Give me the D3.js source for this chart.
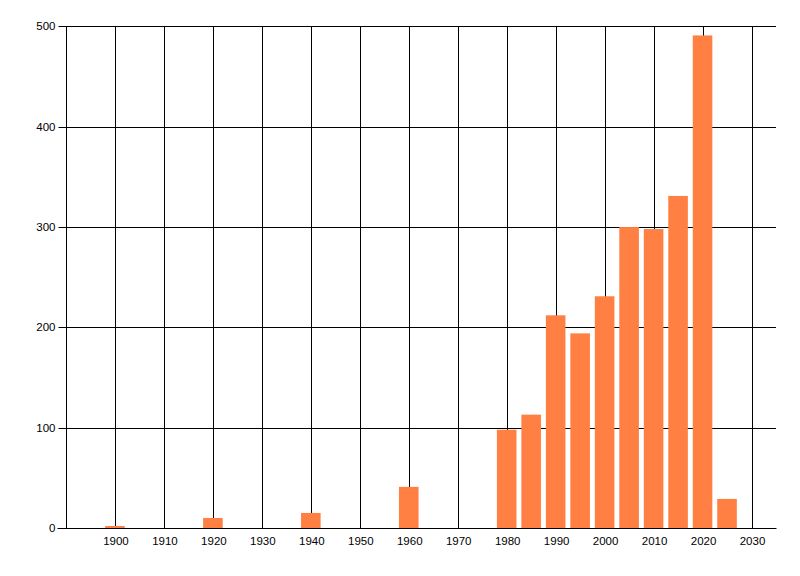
<!DOCTYPE html>
<html>
<head>
<meta charset="utf-8">
<script src="https://cdn.jsdelivr.net/npm/d3@7"></script>
<style>
  body { margin: 0; background: #fff; }
  svg text { font-family: "Liberation Sans", Arial, sans-serif; font-size: 11.5px; fill: #000; }
</style>
</head>
<body>
<div id="chart"></div>
<script>
// --- Data ---
const years = [1900, 1920, 1940, 1960, 1980, 1985, 1990, 1995, 2000, 2005, 2010, 2015, 2020, 2025];
const counts = [2, 10, 15, 41, 98, 113, 212, 194, 231, 300, 298, 331, 491, 29];
const xTicks = [1900, 1910, 1920, 1930, 1940, 1950, 1960, 1970, 1980, 1990, 2000, 2010, 2020, 2030];
const yTicks = [0, 100, 200, 300, 400, 500];

// --- Layout ---
const width = 800, height = 576;
const plotLeft = 66, plotRight = 776, plotTop = 26.4, plotBottom = 528;
const barColor = "#FF8042";
const labelFont = "Liberation Sans, Arial, sans-serif";

const svg = d3.select("#chart").append("svg")
    .attr("width", width)
    .attr("height", height);

const x = d3.scaleLinear().domain([1890, 2035]).range([plotLeft, plotRight]);
const y = d3.scaleLinear().domain([0, 500]).range([plotBottom, plotTop]);
const px = v => Math.round(v) + 0.5;

// vertical grid lines
svg.append("g").selectAll("line").data(xTicks).enter()
  .append("line")
    .attr("x1", d => px(x(d))).attr("x2", d => px(x(d)))
    .attr("y1", px(plotTop)).attr("y2", plotBottom)
    .attr("stroke", "#000").attr("stroke-width", 1);

// horizontal grid lines
svg.append("g").selectAll("line").data(yTicks.filter(d => d > 0)).enter()
  .append("line")
    .attr("x1", plotLeft).attr("x2", plotRight)
    .attr("y1", d => px(y(d))).attr("y2", d => px(y(d)))
    .attr("stroke", "#000").attr("stroke-width", 1);

// bars, 4 years wide, centred on their year
const barW = 4;
svg.append("g").selectAll("rect").data(years).enter()
  .append("rect")
    .attr("x", d => x(d - barW / 2))
    .attr("width", x(barW) - x(0))
    .attr("y", (d, i) => y(counts[i]))
    .attr("height", (d, i) => y(0) - y(counts[i]))
    .attr("fill", barColor);

// y axis
const yAxis = svg.append("g")
    .attr("transform", `translate(${plotLeft + 0.5},0)`)
    .call(d3.axisLeft(y).tickValues(yTicks).tickSize(8).tickPadding(3));
yAxis.selectAll(".tick").attr("transform", d => `translate(0,${px(y(d))})`);
yAxis.select(".domain").attr("d", `M0,${px(plotTop)}V${plotBottom + 0.5}`);
yAxis.selectAll("text").style("font-size", "11.5px").style("font-family", labelFont);

// x axis (baseline and labels, no tick marks)
const xAxis = svg.append("g")
    .attr("transform", `translate(0.5,${plotBottom + 0.5})`)
    .call(d3.axisBottom(x).tickValues(xTicks).tickSize(0).tickPadding(8).tickFormat(d3.format("d")));
xAxis.select(".domain").attr("d", `M${plotLeft - 9},0H${plotRight}`);
xAxis.selectAll("text").style("font-size", "11.5px").style("font-family", labelFont);
</script>
</body>
</html>
